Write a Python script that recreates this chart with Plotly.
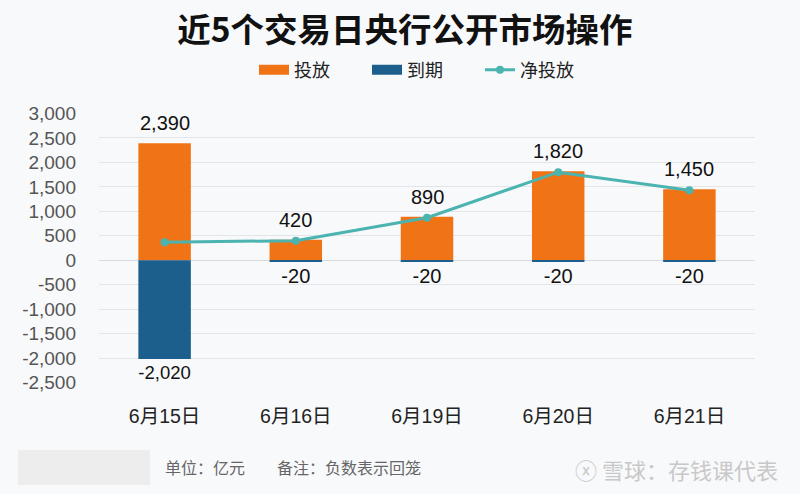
import plotly.graph_objects as go

categories = ["6月15日", "6月16日", "6月19日", "6月20日", "6月21日"]
release = [2390, 420, 890, 1820, 1450]
maturity = [-2020, -20, -20, -20, -20]
net_release = [370, 400, 870, 1800, 1430]
y_ticks = [-2500, -2000, -1500, -1000, -500, 0, 500, 1000, 1500, 2000, 2500, 3000]

CJK = "Noto Sans CJK SC"
NUM = "Liberation Sans, Noto Sans CJK SC"
ORANGE = "#f07416"
BLUE = "#1d5f8c"
TEAL = "#4bb3b0"
BG = "#f8f9fb"

fig = go.Figure()
fig.add_trace(go.Bar(
    x=categories, y=release, name="投放", showlegend=False, legendgroup="a",
    marker=dict(color=ORANGE, line=dict(width=0)),
    cliponaxis=False, width=0.4,
))
fig.add_trace(go.Bar(
    x=categories, y=maturity, name="到期", showlegend=False, legendgroup="b",
    marker=dict(color=BLUE, line=dict(width=0)),
    text=[f"{v:,}" for v in maturity], textposition="outside",
    textfont=dict(size=20, color="#111", family=NUM),
    cliponaxis=False, width=0.4,
))
# legend-only swatches (wide rectangles like the reference)
fig.add_trace(go.Scatter(x=[None], y=[None], name="投放", mode="lines", legendgroup="a",
                         line=dict(color=ORANGE, width=12)))
fig.add_trace(go.Scatter(x=[None], y=[None], name="到期", mode="lines", legendgroup="b",
                         line=dict(color=BLUE, width=12)))
fig.add_trace(go.Scatter(
    x=categories, y=net_release, name="净投放", mode="lines+markers",
    line=dict(color=TEAL, width=3), marker=dict(color=TEAL, size=8),
    cliponaxis=False,
))

for c, v in zip(categories, release):
    fig.add_annotation(x=c, y=v, text=f"{v:,}", showarrow=False, yanchor="bottom",
                       yshift=7, font=dict(size=20, color="#111", family=NUM))

fig.update_layout(
    width=800, height=494,
    barmode="relative",
    paper_bgcolor=BG, plot_bgcolor=BG,
    margin=dict(l=99, r=45, t=113, b=111, autoexpand=False),
    font=dict(family=CJK, color="#333"),
    title=dict(text="<b>近5个交易日央行公开市场操作</b>", x=405 / 800, xanchor="center",
               xref="container", yref="container",
               y=1 - 30 / 494, yanchor="middle",
               font=dict(size=33.5, color="#111", family=CJK)),
    legend=dict(orientation="h", xref="container", yref="container",
                x=254 / 800, xanchor="left", y=1 - 70 / 494, yanchor="middle",
                font=dict(size=18, color="#222", family=CJK),
                bgcolor="rgba(0,0,0,0)", itemwidth=30,
                entrywidth=68, entrywidthmode="pixels"),
    showlegend=True,
)
fig.update_yaxes(
    range=[-2510, 3010], tickvals=y_ticks,
    ticktext=[f"{v:,}" for v in y_ticks],
    tickfont=dict(size=19, color="#555", family=NUM),
    showgrid=True, gridcolor="#e3e5e8", gridwidth=1,
    zeroline=True, zerolinecolor="#d8dadd", zerolinewidth=1,
    ticks="", showline=False, ticklabelstandoff=22, automargin=False,
)
fig.update_xaxes(
    tickfont=dict(size=19.5, color="#222", family=NUM),
    showgrid=False, showline=False, ticks="", ticklabelstandoff=19, automargin=False,
)

fig.add_shape(type="rect", xref="paper", yref="paper",
              x0=(18 - 99) / 656, x1=(150 - 99) / 656,
              y0=(383 - 485) / 270, y1=(383 - 450) / 270,
              fillcolor="#ededee", line=dict(width=0), layer="below")
fig.add_annotation(text="单位：亿元　　备注：负数表示回笼", xref="paper", yref="paper",
                   x=(163 - 99) / 656, xanchor="left", y=(383 - 467) / 270, yanchor="middle",
                   showarrow=False,
                   font=dict(size=16, color="#666", family=CJK))
fig.add_annotation(text="ⓧ 雪球：存钱课代表", xref="paper", yref="paper",
                   x=(780 - 99) / 656, xanchor="right", y=(383 - 469) / 270, yanchor="middle",
                   showarrow=False,
                   font=dict(size=22, color="#c8c8c8", family=CJK))

fig.write_html("out.html", config={"displayModeBar": False},
               post_script="document.body.style.margin='0';document.body.style.background='%s';" % BG)
